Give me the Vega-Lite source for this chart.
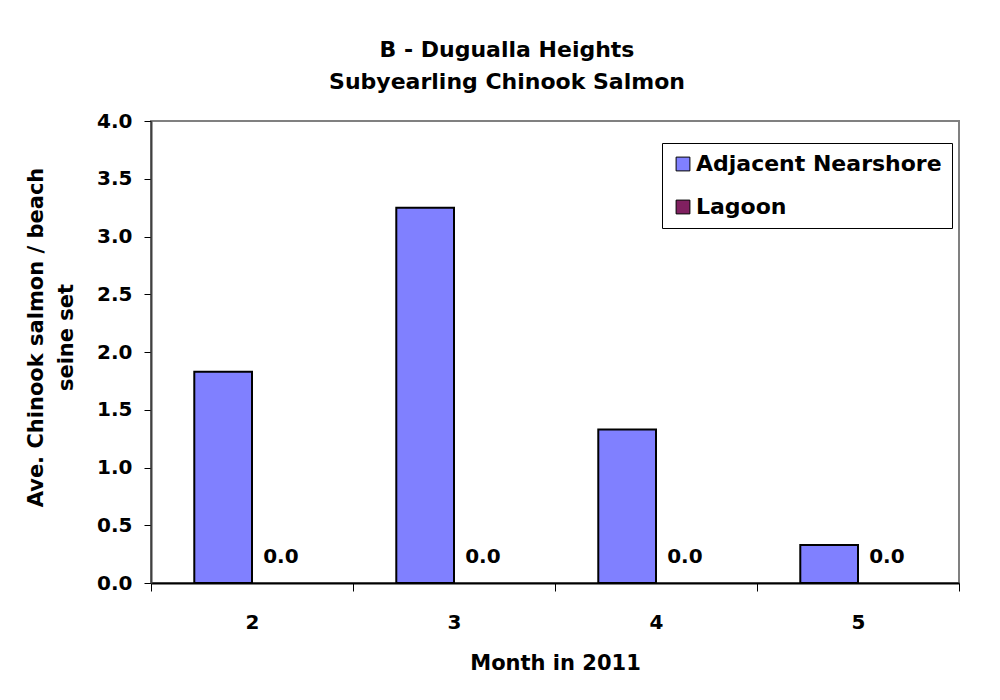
{
  "$schema": "https://vega.github.io/schema/vega-lite/v6.json",
  "autosize": {"type": "none"},
  "width": 808,
  "height": 462,
  "padding": {"left": 151, "top": 121, "right": 41, "bottom": 117},
  "background": "white",
  "config": {
    "font": "DejaVu Sans",
    "view": {"stroke": "#808080", "strokeWidth": 2},
    "axis": {"grid": false}
  },
  "title": {
    "text": ["B - Dugualla Heights", "Subyearling Chinook Salmon"],
    "fontSize": 22,
    "fontWeight": "bold",
    "font": "DejaVu Sans",
    "color": "black",
    "lineHeight": 32,
    "anchor": "middle",
    "dx": -48,
    "offset": 17
  },
  "data": {
    "values": [
      {"month": "2", "series": "Adjacent Nearshore", "value": 1.83},
      {"month": "2", "series": "Lagoon", "value": 0.0},
      {"month": "3", "series": "Adjacent Nearshore", "value": 3.25},
      {"month": "3", "series": "Lagoon", "value": 0.0},
      {"month": "4", "series": "Adjacent Nearshore", "value": 1.33},
      {"month": "4", "series": "Lagoon", "value": 0.0},
      {"month": "5", "series": "Adjacent Nearshore", "value": 0.33},
      {"month": "5", "series": "Lagoon", "value": 0.0}
    ]
  },
  "encoding": {
    "x": {
      "field": "month",
      "type": "nominal",
      "scale": {"paddingInner": 0, "paddingOuter": 0},
      "axis": {
        "title": "Month in 2011",
        "titleFontSize": 21,
        "titleFontWeight": "bold",
        "titleColor": "black",
        "titlePadding": 20,
        "labelAngle": 0,
        "labelFontSize": 20,
        "labelFontWeight": "bold",
        "labelColor": "black",
        "labelPadding": 21,
        "tickBand": "extent",
        "tickSize": 8,
        "tickColor": "black",
        "tickWidth": 1,
        "domainColor": "black",
        "domainWidth": 2
      }
    },
    "xOffset": {
      "field": "series",
      "type": "nominal",
      "scale": {"domain": ["Adjacent Nearshore", "Lagoon"], "paddingInner": 0, "paddingOuter": 0.75}
    }
  },
  "layer": [
    {
      "transform": [{"filter": "datum.value > 0"}],
      "mark": {"type": "bar", "stroke": "black", "strokeWidth": 2},
      "encoding": {
        "y": {
          "field": "value",
          "type": "quantitative",
          "scale": {"domain": [0, 4]},
          "axis": {
            "title": ["Ave. Chinook salmon / beach", "seine set"],
            "titleFontSize": 21,
            "titleFontWeight": "bold",
            "titleColor": "black",
            "titleLineHeight": 30,
            "titleX": -105,
            "titleY": 216,
            "titleAngle": -90,
            "titleBaseline": "bottom",
            "titleAlign": "center",
            "values": [0, 0.5, 1, 1.5, 2, 2.5, 3, 3.5, 4],
            "format": ".1f",
            "labelFontSize": 20,
            "labelFontWeight": "bold",
            "labelColor": "black",
            "labelPadding": 12,
            "tickSize": 7,
            "tickColor": "black",
            "domainColor": "#404040",
            "domainWidth": 2
          }
        },
        "color": {
          "field": "series",
          "type": "nominal",
          "scale": {"domain": ["Adjacent Nearshore", "Lagoon"], "range": ["#8080FF", "#802060"]},
          "legend": {
            "title": null,
            "orient": "none",
            "legendX": 511,
            "legendY": 22,
            "strokeColor": "black",
            "fillColor": "white",
            "padding": 10,
            "symbolType": "square",
            "symbolSize": 190,
            "symbolStrokeColor": "black",
            "symbolStrokeWidth": 1,
            "labelFontSize": 22,
            "labelFontWeight": "bold",
            "labelColor": "black",
            "labelLimit": 400,
            "rowPadding": 21,
            "labelOffset": 2
          }
        }
      }
    },
    {
      "transform": [{"filter": "datum.series == 'Lagoon'"}],
      "mark": {"type": "text", "fontSize": 20, "fontWeight": "bold", "color": "black", "baseline": "alphabetic", "dy": -20},
      "encoding": {
        "y": {"field": "value", "type": "quantitative", "scale": {"domain": [0, 4]}},
        "text": {"field": "value", "type": "quantitative", "format": ".1f"}
      }
    }
  ]
}
